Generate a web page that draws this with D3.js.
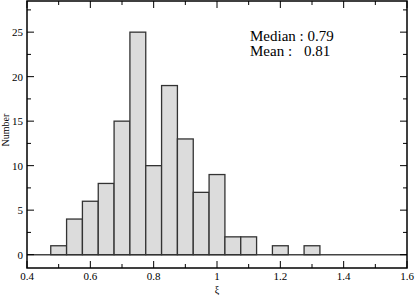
<!DOCTYPE html>
<html>
<head>
<meta charset="utf-8">
<script src="https://d3js.org/d3.v7.min.js"></script>
<style>
  body { margin: 0; background: #fff; }
</style>
</head>
<body>
<div id="chart"></div>
<script>
// histogram bins (centre of each 0.05-wide bin) and counts
const binCenters = [0.50, 0.55, 0.60, 0.65, 0.70, 0.75, 0.80, 0.85, 0.90, 0.95, 1.00, 1.05, 1.10, 1.15, 1.20, 1.25, 1.30];
const counts     = [1, 4, 6, 8, 15, 25, 10, 19, 13, 7, 9, 2, 2, 0, 1, 0, 1];
const binWidth = 0.05;

const xTicks = [0.4, 0.6, 0.8, 1.0, 1.2, 1.4, 1.6];
const yTicks = [0, 5, 10, 15, 20, 25];
const statLines = [["Median : 0.79", ""], ["Mean :", "0.81"]];

const width = 415, height = 295;
const margin = { top: 1, right: 8, bottom: 27, left: 27 };
const serif = "'Liberation Serif', 'Times New Roman', Times, serif";

const svg = d3.select("#chart").append("svg")
  .attr("width", width)
  .attr("height", height)
  .attr("font-family", serif);

const x = d3.scaleLinear().domain([0.4, 1.6]).range([margin.left, width - margin.right]);
const y = d3.scaleLinear().domain([-1.5, 28.5]).range([height - margin.bottom, margin.top]);

// baseline at zero across whole range
svg.append("line")
  .attr("x1", x(0.4)).attr("x2", x(1.6))
  .attr("y1", y(0)).attr("y2", y(0))
  .attr("stroke", "#444").attr("stroke-width", 1.5);

// bars
const bins = binCenters.map((c, i) => ({ c, n: counts[i] })).filter(d => d.n > 0);
svg.append("g").selectAll("rect")
  .data(bins)
  .enter()
  .append("rect")
  .attr("x", d => x(d.c - binWidth / 2))
  .attr("width", d => x(d.c + binWidth / 2) - x(d.c - binWidth / 2))
  .attr("y", d => y(d.n))
  .attr("height", d => y(0) - y(d.n))
  .attr("fill", "#dcdcdc")
  .attr("stroke", "#333")
  .attr("stroke-width", 1.3);

// ticks (inward, on all four sides)
const xMinor = d3.range(0.5, 1.6, 0.2);
const yMinor = d3.range(2.5, 28, 5);
const majorLen = 7, minorLen = 4;
const tickG = svg.append("g").attr("stroke", "#000").attr("stroke-width", 1);

function xTickLines(vals, len) {
  vals.forEach(v => {
    tickG.append("line").attr("x1", x(v)).attr("x2", x(v))
      .attr("y1", y(-1.5)).attr("y2", y(-1.5) - len);
    tickG.append("line").attr("x1", x(v)).attr("x2", x(v))
      .attr("y1", y(28.5)).attr("y2", y(28.5) + len);
  });
}
function yTickLines(vals, len) {
  vals.forEach(v => {
    tickG.append("line").attr("y1", y(v)).attr("y2", y(v))
      .attr("x1", x(0.4)).attr("x2", x(0.4) + len);
    tickG.append("line").attr("y1", y(v)).attr("y2", y(v))
      .attr("x1", x(1.6)).attr("x2", x(1.6) - len);
  });
}
xTickLines(xTicks, majorLen);
xTickLines(xMinor, minorLen);
yTickLines(yTicks, majorLen);
yTickLines(yMinor, minorLen);

// frame
svg.append("rect")
  .attr("x", x(0.4)).attr("y", y(28.5))
  .attr("width", x(1.6) - x(0.4))
  .attr("height", y(-1.5) - y(28.5))
  .attr("fill", "none")
  .attr("stroke", "#000")
  .attr("stroke-width", 1.5);

// tick labels
svg.append("g").selectAll("text")
  .data(xTicks)
  .enter()
  .append("text")
  .attr("x", d => x(d))
  .attr("y", y(-1.5) + 12)
  .attr("text-anchor", "middle")
  .attr("font-size", 11)
  .text(d => d3.format("~g")(d));

svg.append("g").selectAll("text")
  .data(yTicks)
  .enter()
  .append("text")
  .attr("x", x(0.4) - 4)
  .attr("y", d => y(d) + 4)
  .attr("text-anchor", "end")
  .attr("font-size", 11)
  .text(d => d);

// axis titles
svg.append("text")
  .attr("x", x(1.0))
  .attr("y", 293)
  .attr("text-anchor", "middle")
  .attr("font-size", 10)
  .text("ξ");

svg.append("text")
  .attr("transform", `translate(9, ${y(14)}) rotate(-90)`)
  .attr("text-anchor", "middle")
  .attr("font-size", 10)
  .text("Number");

// median / mean annotation
statLines.forEach((s, i) => {
  svg.append("text")
    .attr("x", 250).attr("y", 41 + i * 14.5)
    .attr("font-size", 15)
    .text(s[0]);
  svg.append("text")
    .attr("x", 304).attr("y", 41 + i * 14.5)
    .attr("font-size", 15)
    .text(s[1]);
});
</script>
</body>
</html>
